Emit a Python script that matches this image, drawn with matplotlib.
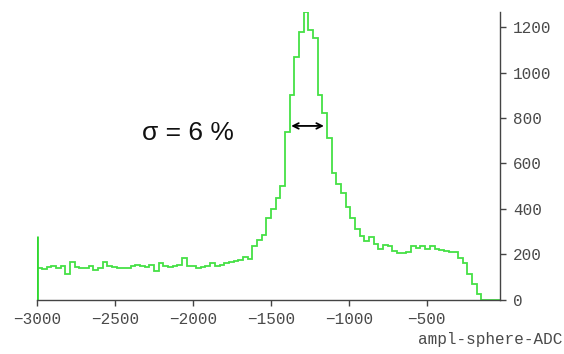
import matplotlib
matplotlib.use("Agg")
import matplotlib.pyplot as plt
import numpy as np

# histogram of sphere ADC amplitude, 30-unit bins from -3000 to 0
bin_edges = np.arange(-3000, 1, 30)
counts = [
    140, 135, 145, 150, 140, 150, 115, 165, 145, 140,
    140, 150, 130, 140, 165, 150, 145, 140, 140, 140,
    150, 155, 150, 145, 155, 125, 160, 150, 145, 150,
    155, 185, 150, 150, 140, 145, 150, 160, 150, 155,
    160, 165, 170, 175, 190, 180, 235, 265, 285, 360,
    400, 450, 500, 740, 900, 1070, 1180, 1265, 1185, 1150,
    900, 820, 710, 560, 510, 470, 410, 360, 310, 280,
    260, 275, 245, 225, 240, 235, 215, 205, 205, 210,
    235, 230, 235, 225, 235, 225, 220, 215, 210, 210,
    185, 160, 115, 70, 25, 0, 0, 0, 0, 0,
]
underflow_height = 280

x_ticks = [-3000, -2500, -2000, -1500, -1000, -500]
y_ticks = [0, 200, 400, 600, 800, 1000, 1200]
sigma_label = "σ = 6 %"
arrow_y = 765
arrow_x = (-1370, -1160)

mono = "Liberation Mono"
grey = "#4a4a4a"

fig = plt.figure(figsize=(5.64, 3.54), dpi=100)
ax = fig.add_axes([0.066, 0.153, 0.821, 0.813])

ax.stairs(counts, bin_edges, color="#45e045", lw=1.3)
ax.vlines(bin_edges[0], 0, underflow_height, color="#30d830", lw=2.0)

ax.set_xlim(-3000, -28)
ax.set_ylim(0, 1266)

ax.spines["left"].set_visible(False)
ax.spines["top"].set_visible(False)
for s in ("right", "bottom"):
    ax.spines[s].set_color("#444444")
    ax.spines[s].set_linewidth(1.0)

ax.yaxis.tick_right()
ax.set_xticks(x_ticks)
ax.set_yticks(y_ticks)
ax.tick_params(axis="both", direction="out", length=4, width=1,
               color="#444444", labelcolor=grey, labelsize=11.5, pad=5)
for lab in ax.get_xticklabels() + ax.get_yticklabels():
    lab.set_fontfamily(mono)

ax.annotate("", xy=(arrow_x[0], arrow_y), xytext=(arrow_x[1], arrow_y),
            arrowprops=dict(arrowstyle="<->", color="black", lw=1.3,
                            shrinkA=0, shrinkB=0, mutation_scale=10))
ax.text(-2330, 735, sigma_label, fontsize=19, family="Liberation Sans",
        va="center", ha="left", color="#111111")

fig.text(0.998, 0.04, "ampl-sphere-ADC", family=mono, fontsize=11.5,
         color=grey, ha="right", va="center")

fig.savefig("out.png", dpi=100)
